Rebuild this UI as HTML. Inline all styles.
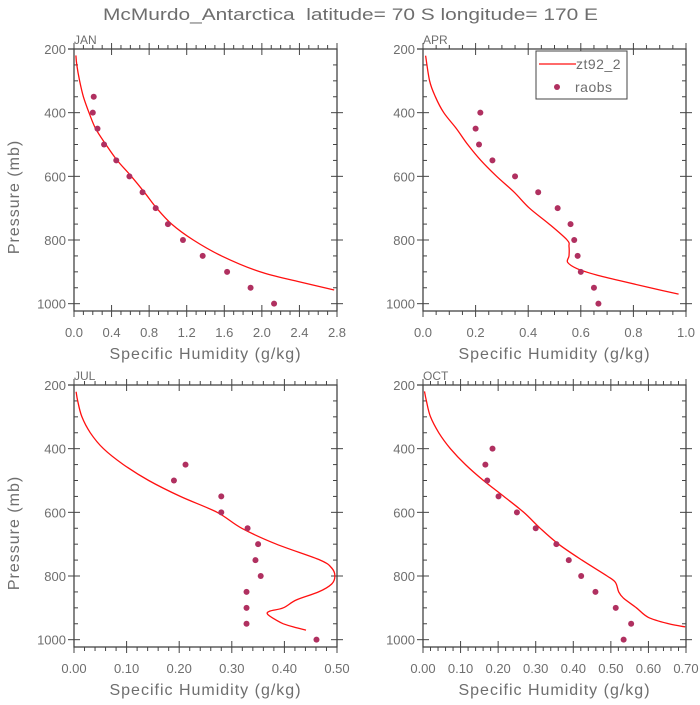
<!DOCTYPE html>
<html><head><meta charset="utf-8"><style>
html,body{margin:0;padding:0;background:#fff;}
svg text{font-family:"Liberation Sans","DejaVu Sans",sans-serif;fill:#6e6e6e;white-space:pre;}
</style></head><body>
<svg id="chart" width="700" height="700" viewBox="0 0 700 700" xmlns="http://www.w3.org/2000/svg">
<text x="103" y="20" font-size="17" textLength="495" lengthAdjust="spacingAndGlyphs" xml:space="preserve">McMurdo_Antarctica  latitude= 70 S longitude= 170 E</text>
</svg>
<script>
// Panel categories
const panelNames = ["JAN","APR","JUL","OCT"];
const xMaxes = [2.8, 1.0, 0.5, 0.7];
const xMajorSteps = [0.4, 0.2, 0.1, 0.1];
const xMinorSteps = [0.1, 0.05, 0.02, 0.02];
const xDecimals = [1, 1, 2, 2];
const yTickLabels = [200, 400, 600, 800, 1000];

// Raobs
const obsP_JAN = [350,400,450,500,550,600,650,700,750,800,850,900,950,1000];
const obsQ_JAN = [0.21,0.20,0.25,0.32,0.45,0.59,0.73,0.87,1.00,1.16,1.37,1.63,1.88,2.13];
const obsP_APR = [400,450,500,550,600,650,700,750,800,850,900,950,1000];
const obsQ_APR = [0.218,0.20,0.213,0.264,0.35,0.438,0.512,0.561,0.575,0.588,0.60,0.65,0.667];
const obsP_JUL = [450,500,550,600,650,700,750,800,850,900,950,1000];
const obsQ_JUL = [0.212,0.19,0.28,0.28,0.33,0.35,0.345,0.355,0.328,0.328,0.328,0.461];
const obsP_OCT = [400,450,500,550,600,650,700,750,800,850,900,950,1000];
const obsQ_OCT = [0.185,0.166,0.171,0.201,0.25,0.30,0.355,0.388,0.421,0.459,0.513,0.554,0.534];

// Model (zt92_2)
const modP_JAN = [220,250,300,350,400,450,500,550,600,650,700,750,800,850,900,930,957];
const modQ_JAN = [0.02,0.03,0.06,0.10,0.16,0.23,0.34,0.46,0.61,0.75,0.88,1.04,1.27,1.57,1.98,2.38,2.77];
const modP_APR = [221,300,350,400,450,500,550,600,650,700,750,800,820,850,870,890,910,930,950,970];
const modQ_APR = [0.01,0.025,0.047,0.079,0.127,0.17,0.22,0.28,0.347,0.405,0.48,0.548,0.555,0.555,0.55,0.586,0.66,0.76,0.864,0.972];
const modP_JUL = [221,250,300,350,400,450,500,550,600,650,700,750,775,800,825,850,875,900,910,920,940,950,960,970];
const modQ_JUL = [0.004,0.007,0.015,0.031,0.056,0.094,0.142,0.202,0.272,0.319,0.385,0.468,0.49,0.496,0.49,0.465,0.423,0.398,0.373,0.368,0.386,0.398,0.417,0.441];
const modP_OCT = [220,250,300,350,400,450,500,550,600,650,700,750,800,820,850,870,900,930,950,960];
const modQ_OCT = [0.004,0.009,0.02,0.042,0.073,0.113,0.161,0.215,0.268,0.312,0.361,0.423,0.49,0.512,0.521,0.534,0.568,0.60,0.654,0.698];

const obsP = [obsP_JAN, obsP_APR, obsP_JUL, obsP_OCT];
const obsQ = [obsQ_JAN, obsQ_APR, obsQ_JUL, obsQ_OCT];
const modP = [modP_JAN, modP_APR, modP_JUL, modP_OCT];
const modQ = [modQ_JAN, modQ_APR, modQ_JUL, modQ_OCT];

const NS = "http://www.w3.org/2000/svg";
const svg = document.getElementById("chart");
const boxes = [[74,49],[423,49],[74,385],[423,385]];
const W = 263, H = 262, PMIN = 200, PMAX = 1023;
const AX = "#444";

function mk(tag, attrs, parent) {
  const e = document.createElementNS(NS, tag);
  for (const k in attrs) e.setAttribute(k, attrs[k]);
  (parent || svg).appendChild(e);
  return e;
}
function smoothPath(pts) {
  let d = "M" + pts[0][0].toFixed(1) + "," + pts[0][1].toFixed(1);
  for (let k = 0; k < pts.length - 1; k++) {
    const p0 = pts[k - 1] || pts[k], p1 = pts[k], p2 = pts[k + 1], p3 = pts[k + 2] || p2;
    const c1 = [p1[0] + (p2[0] - p0[0]) / 6, p1[1] + (p2[1] - p0[1]) / 6];
    const c2 = [p2[0] - (p3[0] - p1[0]) / 6, p2[1] - (p3[1] - p1[1]) / 6];
    d += " C" + c1[0].toFixed(1) + "," + c1[1].toFixed(1) + " " + c2[0].toFixed(1) + "," + c2[1].toFixed(1) + " " + p2[0].toFixed(1) + "," + p2[1].toFixed(1);
  }
  return d;
}

panelNames.forEach((name, i) => {
  const [x0, y0] = boxes[i];
  const xs = v => x0 + v / xMaxes[i] * W;
  const ys = p => y0 + (p - PMIN) / (PMAX - PMIN) * H;
  const g = mk("g", {});
  
  

  const t = mk("text", {x: x0, y: y0 - 5, "font-size": 12}, g);
  t.textContent = name;
  
  

  const frame = mk("rect", {x: x0, y: y0, width: W, height: H, fill: "none", stroke: AX, "stroke-width": 1.3}, g);
  
  

  for (let p = 250; p <= 1000; p += 50) {
    const y = ys(p);
    const major = p % 200 === 0;
    const tl = major ? 6 : 4;
    mk("line", {x1: x0 - (major ? 6 : 0), x2: x0 + tl, y1: y, y2: y, stroke: AX, "stroke-width": 1}, g);
    mk("line", {x1: x0 + W - tl, x2: x0 + W + (major ? 6 : 0), y1: y, y2: y, stroke: AX, "stroke-width": 1}, g);
  }
  mk("line", {x1: x0 - 6, x2: x0, y1: y0, y2: y0, stroke: AX, "stroke-width": 1.3}, g);
  yTickLabels.forEach(p => {
    const tx = mk("text", {x: x0 - 8, y: ys(p) + 5, "text-anchor": "end", "font-size": 13}, g);
    tx.textContent = p;
    
    
  });

  const nMinor = Math.round(xMaxes[i] / xMinorSteps[i]);
  const ratio = Math.round(xMajorSteps[i] / xMinorSteps[i]);
  for (let k = 0; k <= nMinor; k++) {
    const x = xs(k * xMinorSteps[i]);
    const major = k % ratio === 0;
    const tl = major ? 6 : 4;
    mk("line", {x1: x, x2: x, y1: y0 + H - (major ? 6 : 0), y2: y0 + H + tl, stroke: AX, "stroke-width": 1}, g);
    mk("line", {x1: x, x2: x, y1: y0 - tl, y2: y0 + (major ? 6 : 0), stroke: AX, "stroke-width": 1}, g);
    if (major) {
      const tx = mk("text", {x: x, y: y0 + H + 26, "text-anchor": "middle", "font-size": 13}, g);
      tx.textContent = (k * xMinorSteps[i]).toFixed(xDecimals[i]);
      
      
    }
  }
  const xt = mk("text", {x: x0 + W / 2, y: y0 + H + 48, "text-anchor": "middle", "font-size": 16, "letter-spacing": "1"}, g);
  xt.textContent = "Specific Humidity (g/kg)";
  
  
  if (i % 2 === 0) {
    const cy = y0 + 148;
    const yt = mk("text", {x: 19, y: cy, "text-anchor": "middle", "font-size": 16, "letter-spacing": "1", transform: `rotate(-90 19 ${cy})`}, g);
    yt.textContent = "Pressure (mb)";
    
    
  }

  const pts = modP[i].map((p, k) => [xs(modQ[i][k]), ys(p)]);
  const pl = mk("path", {d: smoothPath(pts), fill: "none", stroke: "#ff1010", "stroke-width": 1.3}, g);
  
  

  obsP[i].forEach((p, k) => {
    const c = mk("circle", {cx: xs(obsQ[i][k]), cy: ys(p), r: 3, fill: "#b03060"}, g);
    
    
  });
});

const lg = mk("g", {});


mk("rect", {x: 536, y: 51, width: 91, height: 48, fill: "#fff", stroke: AX, "stroke-width": 1}, lg);
const le1 = mk("line", {x1: 539, x2: 576, y1: 64, y2: 64, stroke: "#ff1010", "stroke-width": 1.3}, lg);


const lt1 = mk("text", {x: 576, y: 69, "font-size": 14, "letter-spacing": "0.5"}, lg);
lt1.textContent = "zt92_2";


const le2 = mk("circle", {cx: 557, cy: 87, r: 3, fill: "#b03060"}, lg);


const lt2 = mk("text", {x: 575, y: 92, "font-size": 14, "letter-spacing": "0.5"}, lg);
lt2.textContent = "raobs";


</script>
</body></html>
